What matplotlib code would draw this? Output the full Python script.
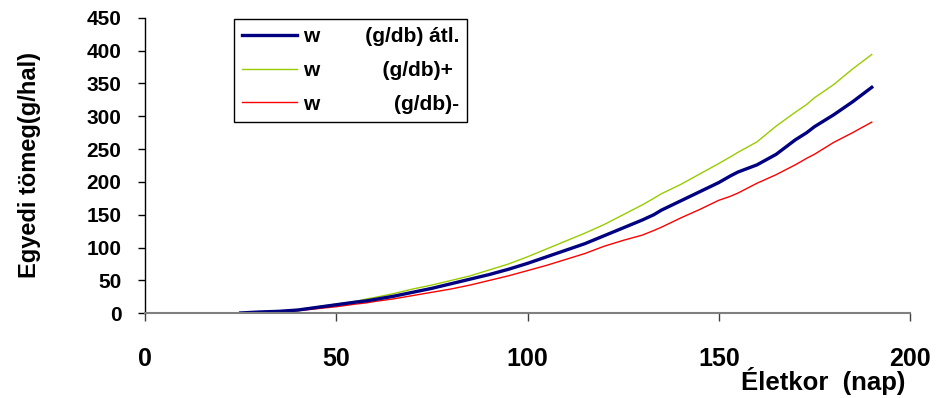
import matplotlib
matplotlib.use("Agg")
import matplotlib.pyplot as plt
from matplotlib.lines import Line2D

age = [25, 30, 35, 40, 45, 50, 55, 58, 60, 65, 70, 75, 80, 85, 90, 95, 100,
       105, 110, 115, 120, 125, 130, 133, 135, 140, 145, 150, 153, 155, 160,
       165, 170, 173, 175, 180, 185, 190]
w_avg = [0.5, 2, 3, 5, 9, 13, 17, 19, 21, 26, 32, 38, 45, 52, 59, 67, 76,
         86, 96, 106, 118, 130, 142, 150, 157, 171, 185, 199, 209, 215, 226,
         242, 264, 275, 284, 302, 322, 344]
w_plus = [0.5, 2, 3, 6, 10, 14, 18, 22, 24, 30, 37, 43, 50, 57, 66, 75, 86,
          98, 110, 122, 135, 150, 165, 175, 182, 196, 212, 228, 238, 245, 261,
          285, 306, 318, 328, 348, 372, 394]
w_minus = [0.3, 1, 2, 4, 7, 10, 14, 16, 18, 22, 27, 32, 37, 43, 50, 57, 65,
           73, 82, 91, 102, 111, 119, 126, 131, 145, 158, 172, 178, 183, 198,
           211, 226, 236, 242, 260, 275, 291]
labels = ["w        (g/db) átl.", "w           (g/db)+", "w             (g/db)-"]
x_ticks = [0, 50, 100, 150, 200]
y_ticks = [0, 50, 100, 150, 200, 250, 300, 350, 400, 450]

plt.rcParams['font.family'] = ['Liberation Sans', 'DejaVu Sans']
plt.rcParams['font.weight'] = 'bold'

fig = plt.figure(figsize=(9.36, 3.98), dpi=100)
ax = fig.add_axes([145/936, 1-313.3/398, 765/936, (313.3-17.7)/398])

ax.plot(age, w_plus, color='#99CC00', lw=1.0, label=labels[1])
ax.plot(age, w_minus, color='#FF0000', lw=1.0, label=labels[2])
ax.plot(age, w_avg, color='#000080', lw=2.4, label=labels[0])

ax.set_xlim(0, 200)
ax.set_ylim(0, 450)
ax.set_xticks(x_ticks)
ax.set_yticks(y_ticks)
ax.tick_params(axis='x', labelsize=18, length=6, width=1, pad=18, direction='out', color='#404040')
ax.tick_params(axis='y', labelsize=15, length=5, width=1, pad=12, direction='out')
for s in ['top', 'right']:
    ax.spines[s].set_visible(False)
ax.spines['bottom'].set_color('#808080')
ax.spines['bottom'].set_linewidth(1.5)
ax.spines['left'].set_color('black')
ax.spines['left'].set_linewidth(1.0)
for lab in ax.get_xticklabels() + ax.get_yticklabels():
    lab.set_fontweight('bold')

ax.set_ylabel("Egyedi tömeg(g/hal)", fontsize=17, fontweight='bold')
ax.yaxis.set_label_coords((30-145)/765, 0.5)
ax.yaxis.label.set_va('center')
ax.set_xlabel("Életkor  (nap)", fontsize=18.5, fontweight='bold')
ax.xaxis.set_label_coords((905-145)/765, (313.3-381)/295.6)
ax.xaxis.label.set_ha('right')
ax.xaxis.label.set_va('center')

handles = [Line2D([], [], color='#000080', lw=2.4),
           Line2D([], [], color='#99CC00', lw=1.0),
           Line2D([], [], color='#FF0000', lw=1.0)]
leg = ax.legend(handles, labels, loc='upper left',
                bbox_to_anchor=(234/936, 1-19/398), bbox_transform=fig.transFigure,
                borderaxespad=0, fancybox=False, framealpha=1, edgecolor='black',
                prop={'size': 15, 'weight': 'bold'}, handlelength=2.6,
                handletextpad=0.3, labelspacing=0.7, borderpad=0.4)
leg.get_frame().set_linewidth(1.0)

fig.savefig("out.png", dpi=100)
